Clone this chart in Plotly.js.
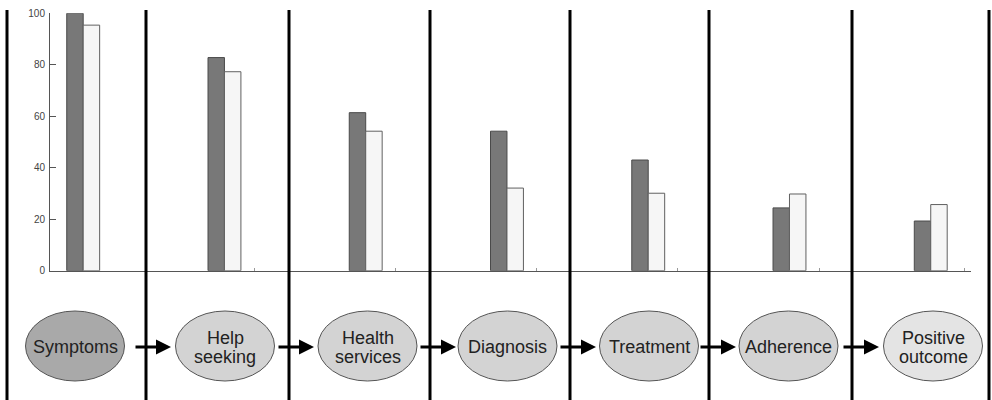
<!DOCTYPE html>
<html>
<head>
<meta charset="utf-8">
<script src="https://cdn.plot.ly/plotly-3.0.1.min.js"></script>
<style>html,body{margin:0;padding:0;background:#fff;}#chart{width:992px;height:400px;}</style>
</head>
<body>
<div id="chart"></div>
<script>
// ---- data ----
var categories = ['Symptoms', 'Help seeking', 'Health services', 'Diagnosis', 'Treatment', 'Adherence', 'Positive outcome'];
var seriesA = [100, 82.8, 61.4, 54.2, 43, 24.4, 19.3];
var seriesB = [95.4, 77.3, 54.2, 32.1, 30.1, 29.8, 25.7];
var yTickVals = [0, 20, 40, 60, 80, 100];
var yTickText = ['0', '20', '40', '60', '80', '100'];

// ---- layout constants (pixels in a 992x400 page) ----
var W = 992, H = 400;
function px(x) { return x / W; }
function py(y) { return 1 - y / H; }
var separatorX = [7, 146, 289, 430, 570, 709, 852, 989];
var ellipseCX = [75, 225, 367.5, 507.5, 649, 788.5, 933];
var ellipseRX = 49.5, ellipseTop = 311, ellipseBottom = 381;
var ellipseFill = ['#a9a9a9', '#d3d3d3', '#d3d3d3', '#d3d3d3', '#d3d3d3', '#d3d3d3', '#e4e4e4'];
var arrowTips = [171, 314, 456, 596, 736, 879];
var arrowLen = 37;
var midY = 347;

var traces = [
  {
    type: 'bar', x: categories, y: seriesA, name: 'A',
    marker: {color: '#787878', line: {color: '#4a4a4a', width: 1}},
    hoverinfo: 'x+y'
  },
  {
    type: 'bar', x: categories, y: seriesB, name: 'B',
    marker: {color: '#f6f6f6', line: {color: '#606060', width: 1}},
    hoverinfo: 'x+y'
  }
];

var shapes = [];
separatorX.forEach(function (x) {
  shapes.push({type: 'line', xref: 'paper', yref: 'paper',
    x0: px(x), x1: px(x), y0: py(10), y1: py(400),
    line: {color: '#000', width: 3}, layer: 'above'});
});
ellipseCX.forEach(function (cx, i) {
  shapes.push({type: 'circle', xref: 'paper', yref: 'paper',
    x0: px(cx - ellipseRX), x1: px(cx + ellipseRX),
    y0: py(ellipseBottom), y1: py(ellipseTop),
    fillcolor: ellipseFill[i], line: {color: '#555', width: 1}, layer: 'above'});
});

var annotations = [];
categories.forEach(function (c, i) {
  var words = c.split(' ');
  var lines = words.length > 1 ? words : [c];
  var spacing = 19;
  lines.forEach(function (t, k) {
    var off = (k - (lines.length - 1) / 2) * spacing;
    annotations.push({xref: 'paper', yref: 'paper', x: px(ellipseCX[i]), y: py(midY + off),
      text: t, showarrow: false, xanchor: 'center', yanchor: 'middle',
      font: {family: 'Liberation Sans, Arial, sans-serif', size: 18, color: '#222'}});
  });
});
arrowTips.forEach(function (tx) {
  annotations.push({xref: 'paper', yref: 'paper', x: px(tx), y: py(midY),
    ax: -arrowLen, ay: 0, text: '', showarrow: true,
    arrowhead: 2, arrowsize: 1, arrowwidth: 3, arrowcolor: '#000'});
});

var layout = {
  width: W, height: H,
  margin: {l: 0, r: 0, t: 0, b: 0, pad: 0},
  paper_bgcolor: '#fff', plot_bgcolor: '#fff',
  showlegend: false,
  barmode: 'group', bargap: 0.767, bargroupgap: 0,
  xaxis: {
    type: 'category', domain: [px(50), px(971)],
    range: [-0.235, 6.285], showgrid: false, zeroline: false,
    showline: true, linecolor: '#555', linewidth: 1,
    showticklabels: false, ticks: 'inside', ticklen: 3, tickcolor: '#999',
    tickmode: 'array', tickvals: [1.21, 2.21, 3.21, 4.21, 5.21, 6.24],
    automargin: false, fixedrange: true
  },
  yaxis: {
    domain: [py(270.7), py(13.3)], range: [0, 100],
    showgrid: false, zeroline: false, showline: true, linecolor: '#555', linewidth: 1,
    ticks: 'inside', ticklen: 6, tickcolor: '#555', tickwidth: 1,
    tickmode: 'array', tickvals: yTickVals, ticktext: yTickText,
    ticklabelstandoff: 2,
    tickfont: {family: 'Liberation Sans, Arial, sans-serif', size: 10, color: '#444'},
    automargin: false, fixedrange: true
  },
  shapes: shapes,
  annotations: annotations
};

Plotly.newPlot('chart', traces, layout, {staticPlot: true, displayModeBar: false});
</script>
</body>
</html>
